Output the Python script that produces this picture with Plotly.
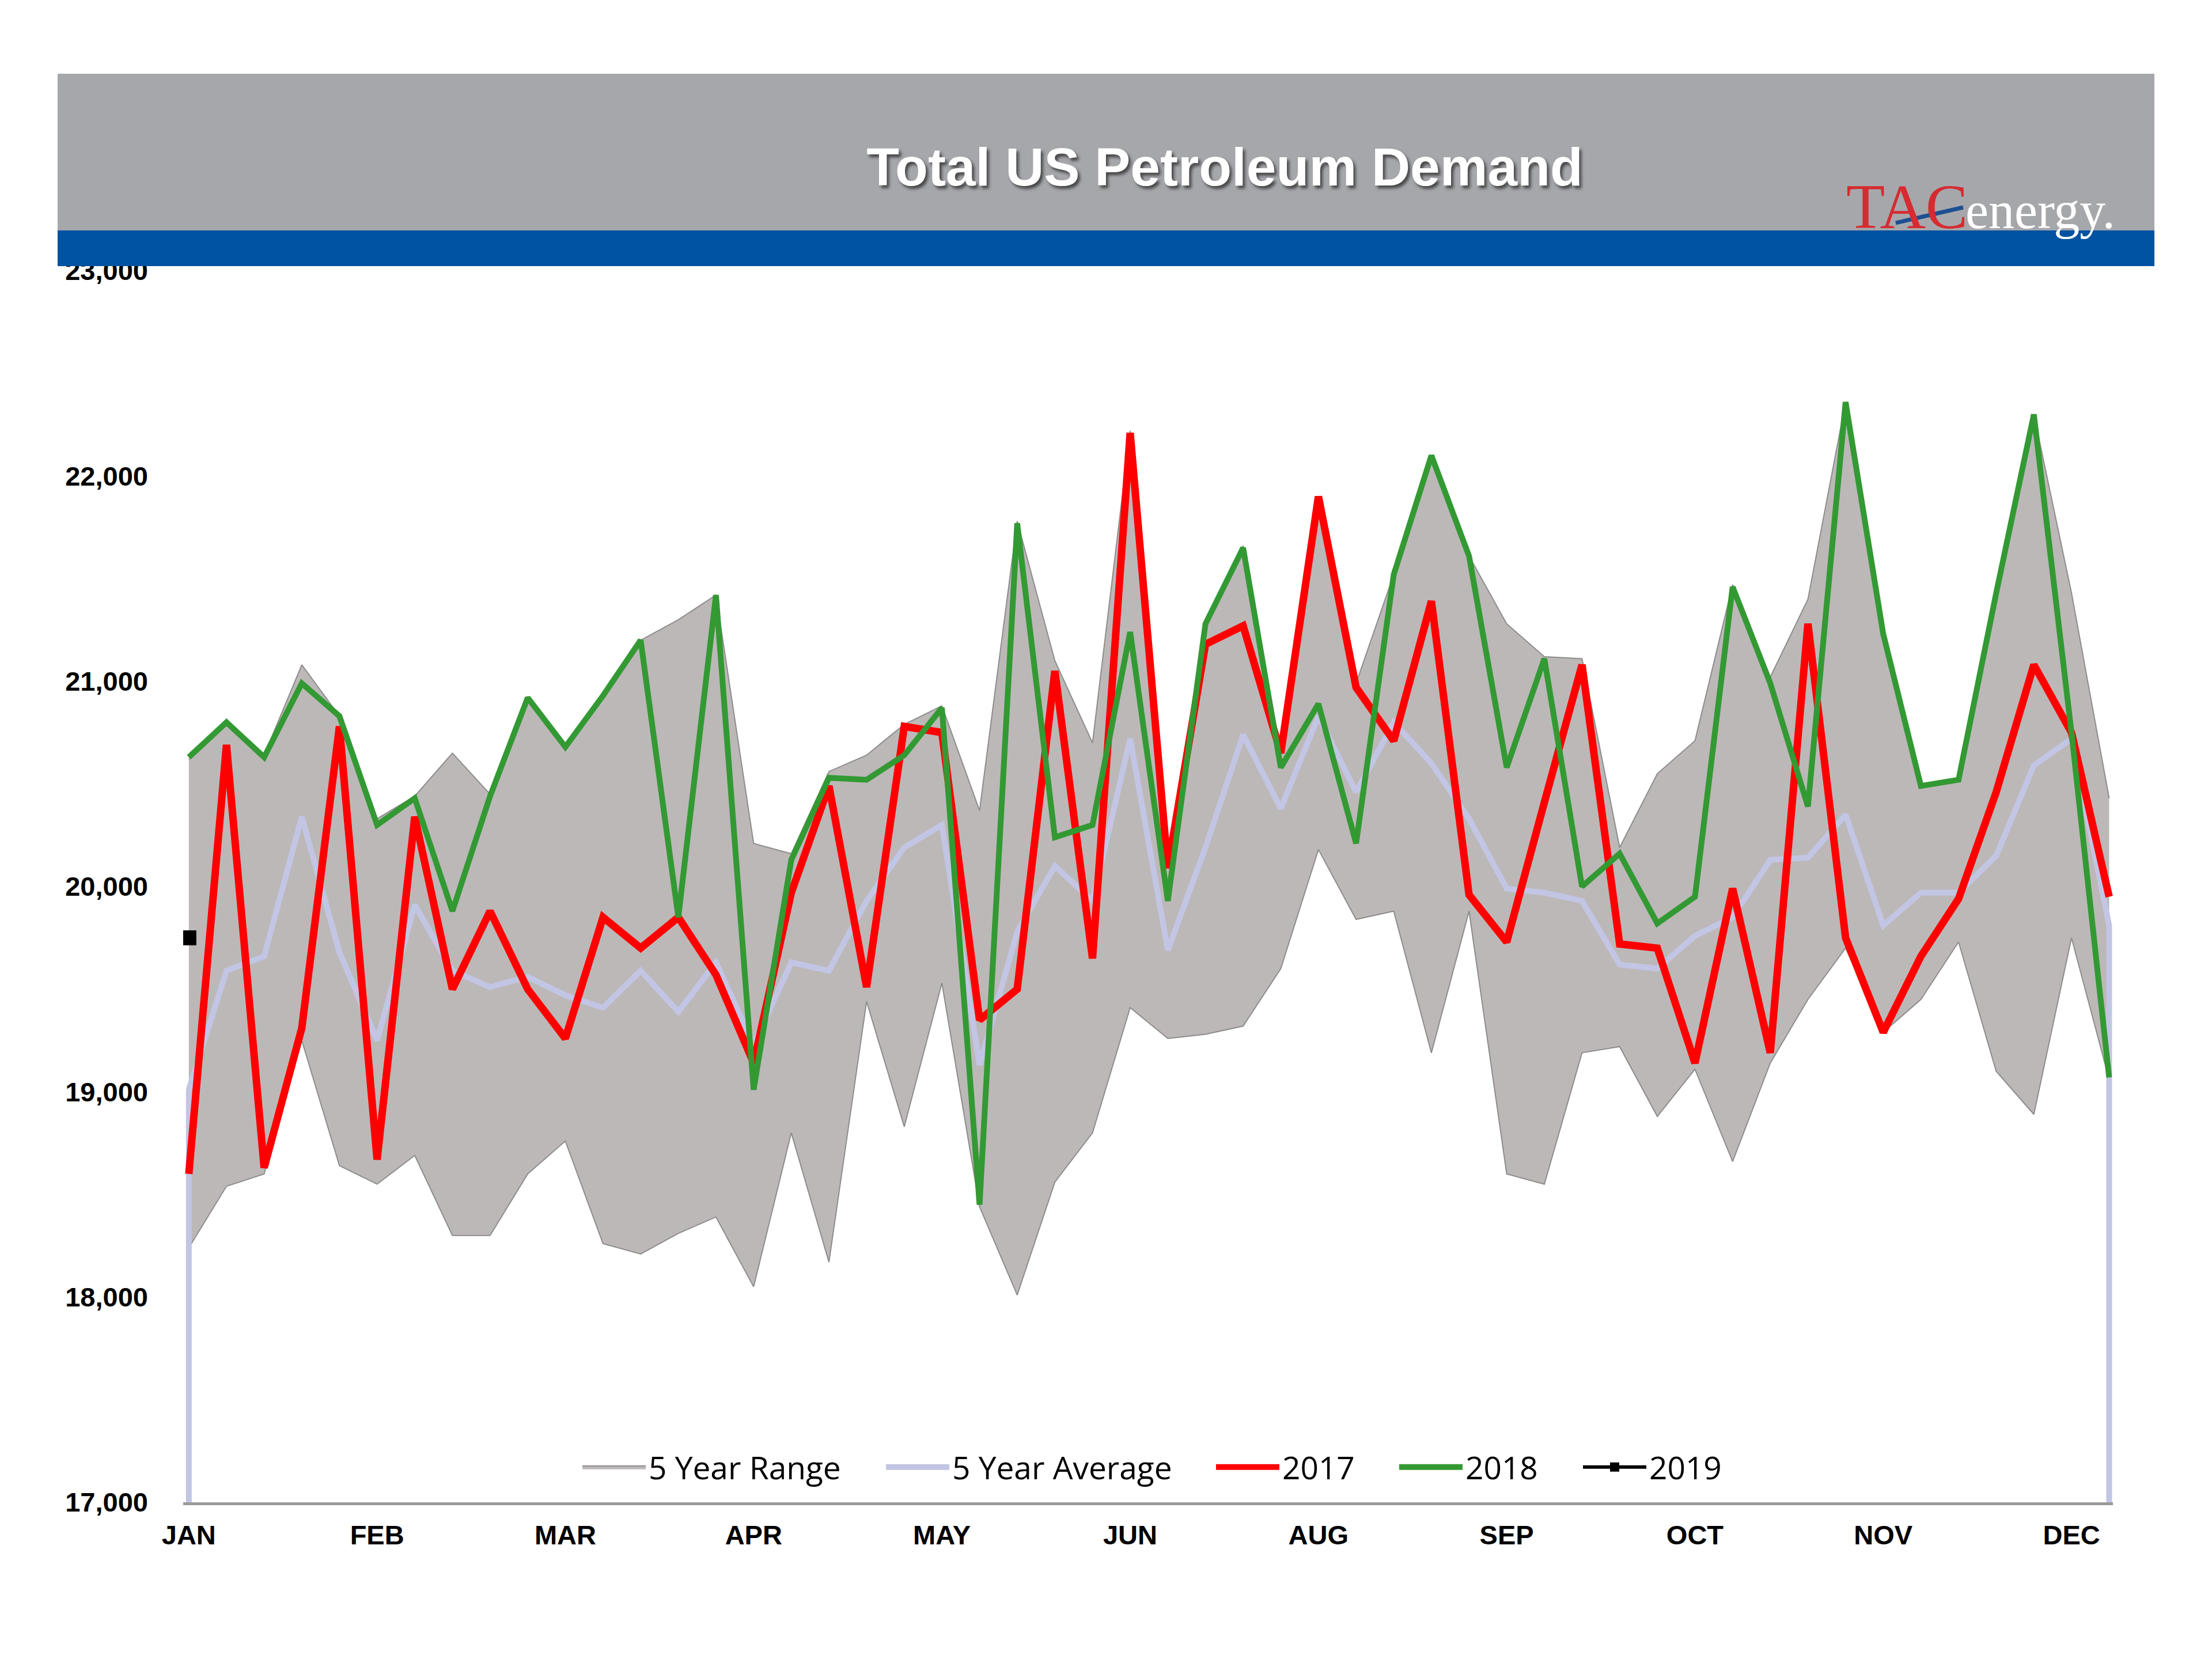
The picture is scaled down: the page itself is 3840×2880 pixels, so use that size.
import plotly.graph_objects as go

# ---------------- data ----------------
weeks = list(range(52))
month_ticks = [0, 5, 10, 15, 20, 25, 30, 35, 40, 45, 50]
month_labels = ["JAN", "FEB", "MAR", "APR", "MAY", "JUN", "AUG", "SEP", "OCT", "NOV", "DEC"]

range_upper = [20620, 20800, 20640, 21080, 20830, 20330, 20440, 20650, 20450, 20920,
               20680, 20930, 21200, 21300, 21420, 20210, 20160, 20560, 20640, 20790,
               20880, 20370, 21780, 21100, 20700, 22220, 20090, 21290, 21660, 20660,
               21900, 20990, 21520, 22100, 21610, 21280, 21120, 21110, 20190, 20550,
               20710, 21470, 21020, 21400, 22360, 21230, 20490, 20520, 21430, 22300,
               21430, 20430]
range_lower = [18240, 18540, 18600, 19250, 18640, 18550, 18690, 18300, 18300, 18600,
               18760, 18260, 18210, 18310, 18390, 18050, 18800, 18170, 19440, 18830,
               19530, 18440, 18010, 18560, 18800, 19410, 19260, 19280, 19320, 19600,
               20180, 19840, 19880, 19190, 19880, 18600, 18550, 19190, 19220, 18880,
               19110, 18660, 19140, 19450, 19700, 19290, 19450, 19730, 19100, 18890,
               19750, 19060]
avg_5yr = [19010, 19590, 19660, 20340, 19680, 19250, 19910, 19590, 19510, 19560,
           19470, 19410, 19590, 19390, 19630, 19230, 19630, 19590, 19930, 20190,
           20300, 19130, 19780, 20100, 19930, 20720, 19690, 20190, 20740, 20380,
           20830, 20460, 20800, 20600, 20330, 19990, 19970, 19930, 19620, 19600,
           19760, 19850, 20130, 20140, 20350, 19810, 19970, 19970, 20150, 20590,
           20720, 19810]
y2017 = [18600, 20690, 18630, 19310, 20780, 18670, 20340, 19500, 19880, 19500,
         19260, 19850, 19700, 19850, 19570, 19140, 19970, 20490, 19510, 20780,
         20750, 19350, 19500, 21050, 19650, 22210, 20090, 21180, 21270, 20650,
         21900, 20970, 20710, 21390, 19960, 19730, 20410, 21080, 19720, 19700,
         19140, 19990, 19190, 21280, 19750, 19290, 19660, 19940, 20460, 21080,
         20750, 19950]
y2018 = [20630, 20800, 20630, 20990, 20830, 20300, 20430, 19880, 20440, 20920,
         20680, 20930, 21200, 19850, 21420, 19010, 20130, 20530, 20520, 20640,
         20870, 18450, 21770, 20240, 20300, 21240, 19930, 21280, 21650, 20580,
         20890, 20210, 21520, 22100, 21610, 20580, 21110, 20000, 20160, 19820,
         19950, 21460, 20990, 20390, 22360, 21230, 20490, 20520, 21430, 22300,
         20750, 19070]
y2019 = [19750]

y_ticks = [17000, 18000, 19000, 20000, 21000, 22000, 23000]
Y_MIN, Y_MAX = 17000, 23000

# ---------------- geometry (page pixels; page has an 8px body margin) ----------------
W, H = 3840, 2880
OFF = 8
L, R, T, B = 318 - OFF, 3668 - OFF, 470 - OFF, 2608 - OFF


def px(x):
    """page x pixel -> paper coordinate"""
    return (x - OFF - L) / (R - L)


def py(y):
    """page y pixel -> paper coordinate"""
    return (B - (y - OFF)) / (B - T)


fig = go.Figure()

fig.add_trace(go.Scatter(x=weeks, y=range_lower, mode="lines",
                         line=dict(color="#8e8c8c", width=2),
                         showlegend=False, hoverinfo="skip"))
fig.add_trace(go.Scatter(x=weeks, y=range_upper, mode="lines", name="5 Year Range",
                         fill="tonexty", fillcolor="#bcb8b8",
                         line=dict(color="#8e8c8c", width=2), legend="legend"))
fig.add_trace(go.Scatter(x=[weeks[0]] + weeks + [weeks[-1]],
                         y=[Y_MIN] + avg_5yr + [Y_MIN], mode="lines",
                         name="5 Year Average",
                         line=dict(color="#c3c5e4", width=10), legend="legend2"))
fig.add_trace(go.Scatter(x=weeks, y=y2017, mode="lines", name="2017",
                         line=dict(color="#ff0000", width=13), legend="legend3"))
fig.add_trace(go.Scatter(x=weeks, y=y2018, mode="lines", name="2018",
                         line=dict(color="#339933", width=10), legend="legend4"))
fig.add_trace(go.Scatter(x=weeks[:len(y2019)], y=y2019, mode="lines+markers", name="2019",
                         line=dict(color="#000000", width=6),
                         marker=dict(symbol="square", size=26, color="#000000"),
                         legend="legend5"))

tick_font = dict(family="Liberation Sans, Arial, sans-serif", size=47, color="#000000",
                 weight="bold")
legend_font = dict(family="Open Sans, sans-serif", size=55, color="#000000")


def legend_at(page_x):
    return dict(orientation="h", x=px(page_x - 5), y=py(2547), xanchor="left",
                yanchor="middle", bgcolor="rgba(0,0,0,0)", itemwidth=110,
                font=legend_font)


fig.update_layout(
    width=W, height=H, autosize=False,
    margin=dict(l=L, r=W - R, t=T, b=H - B, pad=0),
    paper_bgcolor="#ffffff", plot_bgcolor="#ffffff",
    title=dict(text="Total US Petroleum Demand", x=(2126 - OFF) / W, y=1 - (289 - OFF) / H,
               xanchor="center", yanchor="middle",
               font=dict(family="Liberation Sans, Arial, sans-serif", size=93,
                         color="#ffffff", weight="bold",
                         shadow="4px 5px 5px rgba(40,40,40,0.75)")),
    xaxis=dict(range=[-0.15, 51.1], tickmode="array", tickvals=month_ticks,
               ticktext=month_labels, showgrid=False, zeroline=False,
               showline=True, linecolor="#9a9a9a", linewidth=5,
               ticks="", ticklabelstandoff=12, tickfont=tick_font),
    yaxis=dict(range=[Y_MIN, Y_MAX], tickmode="array", tickvals=y_ticks,
               tickformat=",d", showgrid=False, zeroline=False, showline=False,
               ticks="", ticklabelstandoff=60, tickfont=tick_font),
    legend=legend_at(1011),
    legend2=legend_at(1538),
    legend3=legend_at(2111),
    legend4=legend_at(2429),
    legend5=legend_at(2748),
    showlegend=True,
)

# banner
fig.add_shape(type="rect", xref="paper", yref="paper",
              x0=px(100), x1=px(3740), y0=py(400), y1=py(128),
              fillcolor="#a6a7ab", line=dict(width=0), layer="above")
fig.add_shape(type="rect", xref="paper", yref="paper",
              x0=px(100), x1=px(3740), y0=py(462), y1=py(400),
              fillcolor="#0052a2", line=dict(width=0), layer="above")

# logo
fig.add_annotation(text="TAC", xref="paper", yref="paper", x=px(3418), y=py(359),
                   xanchor="right", yanchor="middle", showarrow=False,
                   font=dict(family="Liberation Serif, Times New Roman, serif",
                             size=110, color="#d62b30"))
fig.add_annotation(text="energy.", xref="paper", yref="paper", x=px(3410), y=py(366),
                   xanchor="left", yanchor="middle", showarrow=False,
                   font=dict(family="Liberation Serif, Times New Roman, serif",
                             size=90, color="#ffffff"))
fig.add_shape(type="line", xref="paper", yref="paper",
              x0=px(3291), y0=py(387), x1=px(3408), y1=py(360),
              line=dict(color="#1d4f91", width=7), layer="above")

fig.write_html("out.html")
